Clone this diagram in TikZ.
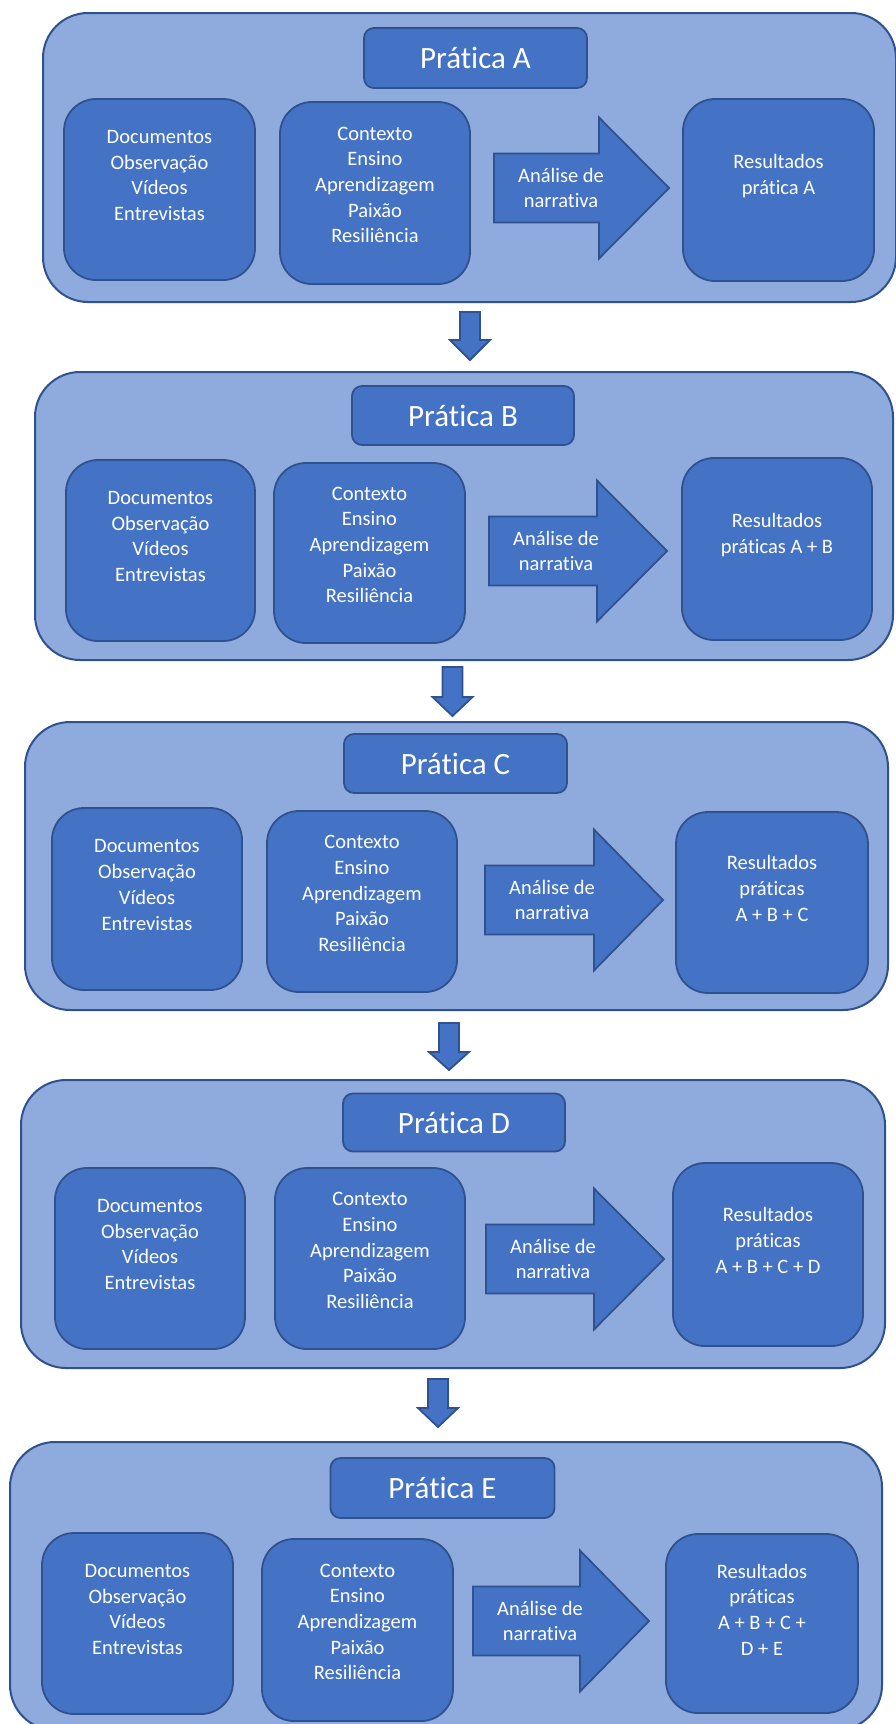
\documentclass[tikz,border=0pt]{standalone}
\usepackage{fontspec}
\setmainfont{Carlito}[Ligatures={NoCommon}, RawFeature={-liga;-clig;-calt;-dlig}]
\definecolor{panelc}{HTML}{8FAADC}
\definecolor{boxc}{HTML}{4472C4}
\definecolor{bordc}{HTML}{2F528F}
\newcommand\rArrowShape[5]{%
  \filldraw[blockarrow] (#1,{#4-34.5}) -- (#2,{#4-34.5}) -- (#2,{#4-70.5}) -- (#3,#4) -- (#2,{#4+70.5}) -- (#2,{#4+34.5}) -- (#1,{#4+34.5}) -- cycle;
  \node[txt] (#5) at ({#1+67},#4) {Análise de\\narrativa};}
\newcommand\dArrowShape[4]{%
  \filldraw[blockarrow] ({#1-10},#2) -- ({#1+10},#2) -- ({#1+10},#3) -- ({#1+20},#3) -- (#1,#4) -- ({#1-20},#3) -- ({#1-10},#3) -- cycle;}
\begin{document}
\begin{tikzpicture}[x=1pt,y=-1pt,
  panel/.style={draw=bordc, fill=panelc, line width=2pt, rounded corners=45pt, inner sep=0pt},
  ibox/.style={draw=bordc, fill=boxc, line width=1.8pt, rounded corners=32pt, inner sep=0pt},
  ttl/.style={draw=bordc, fill=boxc, line width=1.8pt, rounded corners=10pt, inner sep=0pt, text=white, font=\fontsize{31}{37}\selectfont},
  txt/.style={text=white, align=center, inner sep=0pt, font=\fontsize{20.5}{25.7}\selectfont},
  blockarrow/.style={draw=bordc, fill=boxc, line width=1.8pt, line join=miter}]
\useasboundingbox (0,0) rectangle (895,1724);
\fill[white] (0,0) rectangle (895,1724);

% ---------- Panel A ----------
\node[panel, minimum width=853pt, minimum height=289pt] (pA) at (469.5,157.5) {};
\node[ttl, minimum width=223pt, minimum height=60pt] (tA) at (475.5,58) {Prática A};
\node[ibox, minimum width=191pt, minimum height=181pt] (dA) at (159.5,189.5) {};
\node[txt] (dAt) at ([yshift=14pt]dA.center) {Documentos\\Observação\\Vídeos\\Entrevistas};
\node[ibox, minimum width=190pt, minimum height=182pt] (cA) at (375,193) {};
\node[txt] (cAt) at ([yshift=8pt]cA.center) {Contexto\\Ensino\\Aprendizagem\\Paixão\\Resiliência};
\rArrowShape{494}{599}{669}{188}{aA}
\node[ibox, minimum width=191pt, minimum height=182pt] (rA) at (778.5,190) {};
\node[txt] (rAt) at ([yshift=14pt]rA.center) {Resultados\\prática A};

\dArrowShape{470}{312}{340}{360}

% ---------- Panel B ----------
\node[panel, minimum width=858pt, minimum height=288pt] (pB) at (464,516) {};
\node[ttl, minimum width=222pt, minimum height=59pt] (tB) at (463,415.5) {Prática B};
\node[ibox, minimum width=189pt, minimum height=181pt] (dB) at (160.5,550.5) {};
\node[txt] (dBt) at ([yshift=14pt]dB.center) {Documentos\\Observação\\Vídeos\\Entrevistas};
\node[ibox, minimum width=191pt, minimum height=180pt] (cB) at (369.5,553) {};
\node[txt] (cBt) at ([yshift=8pt]cB.center) {Contexto\\Ensino\\Aprendizagem\\Paixão\\Resiliência};
\rArrowShape{489}{597}{667}{551}{aB}
\node[ibox, minimum width=190pt, minimum height=182pt] (rB) at (777,549) {};
\node[txt] (rBt) at ([yshift=14pt]rB.center) {Resultados\\práticas A + B};

\dArrowShape{452.5}{667}{697}{716}

% ---------- Panel C ----------
\node[panel, minimum width=863pt, minimum height=288pt] (pC) at (456.5,866) {};
\node[ttl, minimum width=223pt, minimum height=59pt] (tC) at (455.5,763.5) {Prática C};
\node[ibox, minimum width=190pt, minimum height=182pt] (dC) at (147,899) {};
\node[txt] (dCt) at ([yshift=14pt]dC.center) {Documentos\\Observação\\Vídeos\\Entrevistas};
\node[ibox, minimum width=190pt, minimum height=181pt] (cC) at (362,901.5) {};
\node[txt] (cCt) at ([yshift=8pt]cC.center) {Contexto\\Ensino\\Aprendizagem\\Paixão\\Resiliência};
\rArrowShape{485}{594}{663}{900}{aC}
\node[ibox, minimum width=192pt, minimum height=181pt] (rC) at (772,902.5) {};
\node[txt] (rCt) at ([yshift=14pt]rC.center) {Resultados\\práticas\\A + B + C};

\dArrowShape{449}{1023}{1052}{1070}

% ---------- Panel D ----------
\node[panel, minimum width=864pt, minimum height=288pt] (pD) at (453,1224) {};
\node[ttl, minimum width=222pt, minimum height=58pt] (tD) at (454,1122.5) {Prática D};
\node[ibox, minimum width=190pt, minimum height=181pt] (dD) at (150,1258.5) {};
\node[txt] (dDt) at ([yshift=14pt]dD.center) {Documentos\\Observação\\Vídeos\\Entrevistas};
\node[ibox, minimum width=190pt, minimum height=181pt] (cD) at (370,1258.5) {};
\node[txt] (cDt) at ([yshift=8pt]cD.center) {Contexto\\Ensino\\Aprendizagem\\Paixão\\Resiliência};
\rArrowShape{486}{594}{664}{1259}{aD}
\node[ibox, minimum width=190pt, minimum height=183pt] (rD) at (768,1254.5) {};
\node[txt] (rDt) at ([yshift=14pt]rD.center) {Resultados\\práticas\\A + B + C + D};

\dArrowShape{438}{1379}{1408}{1427}

% ---------- Panel E ----------
\node[panel, minimum width=872pt, minimum height=288pt] (pE) at (446,1586) {};
\node[ttl, minimum width=224pt, minimum height=60pt] (tE) at (442.5,1488) {Prática E};
\node[ibox, minimum width=191pt, minimum height=181pt] (dE) at (137.5,1623.5) {};
\node[txt] (dEt) at ([yshift=14pt]dE.center) {Documentos\\Observação\\Vídeos\\Entrevistas};
\node[ibox, minimum width=191pt, minimum height=182pt] (cE) at (357.5,1630) {};
\node[txt] (cEt) at ([yshift=8pt]cE.center) {Contexto\\Ensino\\Aprendizagem\\Paixão\\Resiliência};
\rArrowShape{473}{580}{649}{1621}{aE}
\node[ibox, minimum width=192pt, minimum height=179pt] (rE) at (762,1623.5) {};
\node[txt] (rEt) at ([yshift=14pt]rE.center) {Resultados\\práticas\\A + B + C +\\D + E};
\end{tikzpicture}
\end{document}
